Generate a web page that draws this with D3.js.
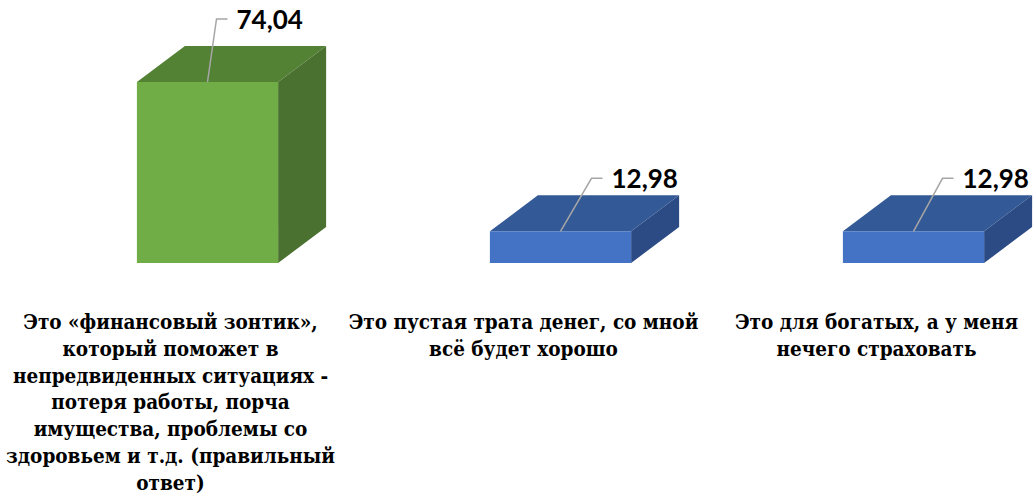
<!DOCTYPE html>
<html>
<head>
<meta charset="utf-8">
<script src="https://cdn.jsdelivr.net/npm/d3@7"></script>
<style>
  body { margin: 0; background: #fff; }
  svg { display: block; }
  .cat { font-family: "DejaVu Serif Condensed", "DejaVu Serif", serif; font-weight: bold; font-size: 20.5px; }
  .val { font-family: Lato, "Open Sans", sans-serif; font-weight: bold; font-size: 26px; }
</style>
</head>
<body>
<div id="chart"></div>
<script>
// values
const categories = [
  "Это «финансовый зонтик», который поможет в непредвиденных ситуациях - потеря работы, порча имущества, проблемы со здоровьем и т.д. (правильный ответ)",
  "Это пустая трата денег, со мной всё будет хорошо",
  "Это для богатых, а у меня нечего страховать"
];
const values = [74.04, 12.98, 12.98];
const valueLabels = ["74,04", "12,98", "12,98"];
// wrapped lines of the category labels, as in the picture
const categoryLines = [
  ["Это «финансовый зонтик»,", "который поможет в", "непредвиденных ситуациях -", "потеря работы, порча", "имущества, проблемы со", "здоровьем и т.д. (правильный", "ответ)"],
  ["Это пустая трата денег, со мной", "всё будет хорошо"],
  ["Это для богатых, а у меня", "нечего страховать"]
];

const W = 1033, H = 498;
const depthX = 48, depthY = -36;

// colour sets: front, top, side
const palettes = [
  { front: "#70ad47", top: "#548235", side: "#4a712f" },
  { front: "#4472c4", top: "#335a96", side: "#2c4b84" },
  { front: "#4472c4", top: "#335a96", side: "#2c4b84" }
];

// leader line bend, relative to the front-top centre of each bar
const leaderBend = [[9, -63], [31, -53], [29, -53]];

const svg = d3.select("#chart")
  .append("svg")
  .attr("width", W)
  .attr("height", H)
  .style("background-color", "white");

const x = d3.scaleBand()
  .domain(categories)
  .range([31, 31 + 3 * 353])
  .paddingInner(0.6)
  .paddingOuter(0.3);

const y = d3.scaleLinear()
  .domain([0, 74.04])
  .range([263, 82]);

const data = categories.map((c, i) => ({ cat: c, value: values[i], label: valueLabels[i], i: i }));

const bars = svg.selectAll("g.bar")
  .data(data)
  .join("g")
  .attr("class", "bar");

//Top face
bars.append("path")
  .attr("d", d => {
    const x0 = x(d.cat), x1 = x0 + x.bandwidth(), yt = y(d.value);
    return `M${x0},${yt}L${x0 + depthX},${yt + depthY}L${x1 + depthX},${yt + depthY}L${x1},${yt}Z`;
  })
  .attr("fill", d => palettes[d.i].top);

//Side face
bars.append("path")
  .attr("d", d => {
    const x1 = x(d.cat) + x.bandwidth(), yt = y(d.value), yb = y(0);
    return `M${x1},${yt}L${x1 + depthX},${yt + depthY}L${x1 + depthX},${yb + depthY}L${x1},${yb}Z`;
  })
  .attr("fill", d => palettes[d.i].side);

//Front face
bars.append("rect")
  .attr("x", d => x(d.cat))
  .attr("y", d => y(d.value))
  .attr("width", x.bandwidth())
  .attr("height", d => y(0) - y(d.value))
  .attr("fill", d => palettes[d.i].front);

//Leader lines
bars.append("path")
  .attr("d", d => {
    const cx = x(d.cat) + x.bandwidth() / 2, yt = y(d.value);
    const b = leaderBend[d.i];
    return `M${cx},${yt}L${cx + b[0]},${yt + b[1]}L${cx + b[0] + 11},${yt + b[1]}`;
  })
  .attr("fill", "none")
  .attr("stroke", "#a6a6a6")
  .attr("stroke-width", 1.5);

//Value labels
bars.append("text")
  .attr("class", "val")
  .attr("x", d => x(d.cat) + x.bandwidth() / 2 + leaderBend[d.i][0] + 20)
  .attr("y", d => y(d.value) + leaderBend[d.i][1] + 10)
  .attr("fill", "black")
  .text(d => d.label);

//Category labels
const catText = svg.selectAll("text.cat")
  .data(data)
  .join("text")
  .attr("class", "cat")
  .attr("text-anchor", "middle")
  .attr("fill", "black");

catText.selectAll("tspan")
  .data(d => categoryLines[d.i].map(l => ({ line: l, cx: x(d.cat) + x.bandwidth() / 2 - 37 })))
  .join("tspan")
  .attr("x", d => d.cx)
  .attr("y", (d, k) => 329 + k * 26.8)
  .text(d => d.line);
</script>
</body>
</html>
